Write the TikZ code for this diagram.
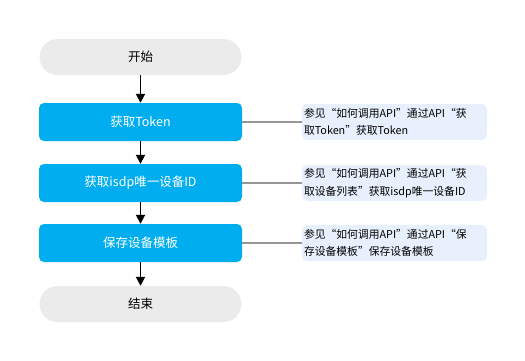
\documentclass[tikz,border=0pt]{standalone}
\usepackage{fontspec}
\setmainfont{Noto Sans CJK SC}
\usetikzlibrary{arrows.meta}
\definecolor{pillgray}{RGB}{235,235,235}
\definecolor{stepblue}{RGB}{0,174,239}
\definecolor{notefill}{RGB}{232,240,253}
\definecolor{linkgray}{RGB}{150,150,150}
\begin{document}
\begin{tikzpicture}[x=1pt,y=-1pt,
  pill/.style={fill=pillgray, rounded corners=18pt, minimum width=202pt, minimum height=36pt, inner sep=0pt, font=\fontsize{12.5}{14}\selectfont, text=black},
  stepbox/.style={fill=stepblue, rounded corners=5pt, minimum width=203pt, minimum height=38pt, inner sep=0pt, font=\fontsize{12.5}{14}\selectfont, text=white},
  note/.style={fill=notefill, rounded corners=5pt, minimum width=185pt, minimum height=36pt, inner sep=0pt, text width=181pt, align=left, font=\fontsize{10.8}{17.5}\selectfont, text=black},
  flow/.style={draw=black, line width=1.8pt, -{Triangle[length=9pt,width=9pt]}},
  link/.style={draw=linkgray, line width=1.8pt}]
\useasboundingbox (0,0) rectangle (525,360);
\node[pill] (start) at (140.5,57) {开始};
\node[stepbox] (s1) at (140.5,122) {获取Token};
\node[stepbox] (s2) at (140.5,183) {获取isdp唯一设备ID};
\node[stepbox] (s3) at (140.5,243) {保存设备模板};
\node[pill] (end) at (140.5,304) {结束};
\node[note] (n1) at (394.5,122) {参见“如何调用API”通过API“获\\取Token”获取Token};
\node[note] (n2) at (394.5,183) {参见“如何调用API”通过API“获\\取设备列表”获取isdp唯一设备ID};
\node[note] (n3) at (394.5,243) {参见“如何调用API”通过API“保\\存设备模板”保存设备模板};
\draw[flow] (start) -- (s1);
\draw[flow] (s1) -- (s2);
\draw[flow] (s2) -- (s3);
\draw[flow] (s3) -- (end);
\draw[link] (s1) -- (n1);
\draw[link] (s2) -- (n2);
\draw[link] (s3) -- (n3);
\end{tikzpicture}
\end{document}
